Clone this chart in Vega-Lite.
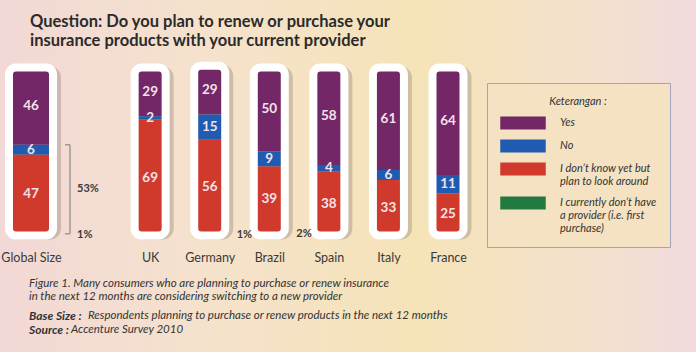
{
  "$schema": "https://vega.github.io/schema/vega-lite/v6.json",
  "width": 696,
  "height": 352,
  "autosize": {"type": "none"},
  "padding": 0,
  "background": "#f4e2c6",
  "config": {
    "font": "Lato",
    "view": {
      "stroke": null,
      "fill": {
        "gradient": "linear",
        "x1": 0, "y1": 0, "x2": 1, "y2": 0,
        "stops": [
          {"offset": 0, "color": "#f2d8d6"},
          {"offset": 0.3, "color": "#f5e2cc"},
          {"offset": 0.6, "color": "#f5e3b8"},
          {"offset": 0.88, "color": "#f3e0cf"},
          {"offset": 1, "color": "#f1d9de"}
        ]
      }
    }
  },
  "title": {
    "text": ["Question: Do you plan to renew or purchase your", "insurance products with your current provider"],
    "anchor": "start",
    "frame": "group",
    "orient": "top",
    "offset": -49,
    "dx": 30,
    "font": "Lato",
    "fontSize": 16.5,
    "fontWeight": "bold",
    "color": "#2b2b2b",
    "lineHeight": 19
  },
  "datasets": {
    "survey": [
      {"country": "Global Size", "answer": "Yes", "value": 46},
      {"country": "Global Size", "answer": "No", "value": 6},
      {"country": "Global Size", "answer": "I don’t know yet but plan to look around", "value": 47},
      {"country": "Global Size", "answer": "I currently don’t have a provider (i.e. first purchase)", "value": 1},
      {"country": "UK", "answer": "Yes", "value": 29},
      {"country": "UK", "answer": "No", "value": 2},
      {"country": "UK", "answer": "I don’t know yet but plan to look around", "value": 69},
      {"country": "Germany", "answer": "Yes", "value": 29},
      {"country": "Germany", "answer": "No", "value": 15},
      {"country": "Germany", "answer": "I don’t know yet but plan to look around", "value": 56},
      {"country": "Germany", "answer": "I currently don’t have a provider (i.e. first purchase)", "value": 1},
      {"country": "Brazil", "answer": "Yes", "value": 50},
      {"country": "Brazil", "answer": "No", "value": 9},
      {"country": "Brazil", "answer": "I don’t know yet but plan to look around", "value": 39},
      {"country": "Brazil", "answer": "I currently don’t have a provider (i.e. first purchase)", "value": 2},
      {"country": "Spain", "answer": "Yes", "value": 58},
      {"country": "Spain", "answer": "No", "value": 4},
      {"country": "Spain", "answer": "I don’t know yet but plan to look around", "value": 38},
      {"country": "Italy", "answer": "Yes", "value": 61},
      {"country": "Italy", "answer": "No", "value": 6},
      {"country": "Italy", "answer": "I don’t know yet but plan to look around", "value": 33},
      {"country": "France", "answer": "Yes", "value": 64},
      {"country": "France", "answer": "No", "value": 11},
      {"country": "France", "answer": "I don’t know yet but plan to look around", "value": 25}
    ]
  },
  "layer": [
    {
      "data": {"name": "survey"},
      "transform": [{"aggregate": [{"op": "sum", "field": "value", "as": "total"}], "groupby": ["country"]}],
      "mark": {"type": "bar", "color": "#7d6a60", "stroke": "#7d6a60", "strokeWidth": 8, "opacity": 0.3, "cornerRadius": 7, "xOffset": 4, "yOffset": 3},
      "encoding": {
        "x": {
          "field": "country", "type": "nominal",
          "scale": {"type": "point", "domain": ["Global Size", " ", "UK", "Germany", "Brazil", "Spain", "Italy", "France"], "range": [31, 448], "padding": 0},
          "axis": {"title": null, "orient": "bottom", "offset": -103, "domain": false, "ticks": false, "grid": false, "labelPadding": 2, "labelAngle": 0, "labelFont": "Lato", "labelFontSize": 12.5, "labelColor": "#3a3a3a", "labelExpr": "datum.value === ' ' ? '' : datum.label"}
        },
        "y": {"field": "total", "type": "quantitative", "scale": {"domain": [-69.35, 140.18], "nice": false, "zero": false}, "axis": null},
        "y2": {"datum": 0},
        "size": {"condition": {"test": "datum.country === 'Global Size'", "value": 44}, "value": 31}
      }
    },
    {
      "data": {"name": "survey"},
      "transform": [{"stack": "value", "groupby": ["country"], "sort": [{"field": "answer", "order": "ascending"}], "as": ["y0", "y1"]}],
      "mark": {"type": "bar"},
      "encoding": {
        "x": {"field": "country", "type": "nominal"},
        "y": {"field": "y1", "type": "quantitative", "axis": null},
        "y2": {"field": "y0"},
        "size": {"condition": {"test": "datum.country === 'Global Size'", "value": 44}, "value": 31},
        "color": {
          "field": "answer", "type": "nominal",
          "scale": {
            "domain": ["Yes", "No", "I don’t know yet but plan to look around", "I currently don’t have a provider (i.e. first purchase)"],
            "range": ["#742766", "#1f5bb0", "#cf3a2c", "#237a40"]
          },
          "legend": {
            "orient": "none",
            "legendX": 487,
            "legendY": 83,
            "title": "Keterangan :",
            "titleFont": "Lato",
            "titleFontSize": 11,
            "titleFontStyle": "italic",
            "titleFontWeight": "normal",
            "titleColor": "#333333",
            "titleAnchor": "middle",
            "titlePadding": 3,
            "labelFont": "Lato",
            "labelFontSize": 11,
            "labelFontStyle": "italic",
            "labelColor": "#333333",
            "labelOffset": 24,
            "labelExpr": "datum.label === 'Yes' || datum.label === 'No' ? datum.label : (indexof(datum.label, 'know') >= 0 ? ['I don’t know yet but', 'plan to look around'] : ['I currently don’t have', 'a provider (i.e. first', 'purchase)'])",
            "symbolType": "M-1.75,-0.5H1.75V0.5H-1.75Z",
            "symbolSize": 676,
            "symbolStrokeWidth": 0,
            "symbolOpacity": 1,
            "symbolOffset": 10,
            "rowPadding": 3,
            "padding": 13,
            "fillColor": "#f5e2c2",
            "strokeColor": "#a3a3bd"
          }
        }
      }
    },
    {
      "data": {"name": "survey"},
      "transform": [{"aggregate": [{"op": "sum", "field": "value", "as": "total"}], "groupby": ["country"]}],
      "mark": {"type": "bar", "fill": "transparent", "stroke": "#ffffff", "strokeWidth": 8, "cornerRadius": 7},
      "encoding": {
        "x": {"field": "country", "type": "nominal"},
        "y": {"field": "total", "type": "quantitative", "axis": null},
        "y2": {"datum": 0},
        "size": {"condition": {"test": "datum.country === 'Global Size'", "value": 44}, "value": 31}
      }
    },
    {
      "data": {"name": "survey"},
      "transform": [
        {"stack": "value", "groupby": ["country"], "sort": [{"field": "answer", "order": "ascending"}], "as": ["y0", "y1"]},
        {"filter": "indexof(datum.answer, 'currently') < 0"},
        {"calculate": "(datum.y0 + datum.y1) / 2", "as": "mid"}
      ],
      "mark": {"type": "text", "font": "Lato", "fontSize": 13.5, "fontWeight": "bold", "color": "#f3e2ea", "baseline": "middle"},
      "encoding": {
        "x": {"field": "country", "type": "nominal"},
        "y": {"field": "mid", "type": "quantitative", "axis": null},
        "text": {"field": "value", "type": "quantitative"}
      }
    },
    {
      "data": {"name": "survey"},
      "transform": [
        {"stack": "value", "groupby": ["country"], "sort": [{"field": "answer", "order": "ascending"}], "as": ["y0", "y1"]},
        {"filter": "indexof(datum.answer, 'currently') >= 0 && datum.country !== 'Global Size'"},
        {"calculate": "(datum.y0 + datum.y1) / 2", "as": "mid"},
        {"calculate": "datum.value + '%'", "as": "label"}
      ],
      "mark": {"type": "text", "font": "Lato", "fontSize": 11, "fontWeight": "bold", "color": "#3a3a3a", "align": "left", "baseline": "middle", "dx": 27},
      "encoding": {
        "x": {"field": "country", "type": "nominal"},
        "y": {"field": "mid", "type": "quantitative", "axis": null},
        "text": {"field": "label", "type": "nominal"}
      }
    },
    {
      "data": {"name": "survey"},
      "transform": [
        {"stack": "value", "groupby": ["country"], "sort": [{"field": "answer", "order": "ascending"}], "as": ["y0", "y1"]},
        {"filter": "indexof(datum.answer, 'currently') >= 0 && datum.country === 'Global Size'"},
        {"calculate": "(datum.y0 + datum.y1) / 2", "as": "mid"},
        {"calculate": "datum.value + '%'", "as": "label"}
      ],
      "mark": {"type": "text", "font": "Lato", "fontSize": 11, "fontWeight": "bold", "color": "#3a3a3a", "align": "left", "baseline": "middle", "dx": 46},
      "encoding": {
        "x": {"field": "country", "type": "nominal"},
        "y": {"field": "mid", "type": "quantitative", "axis": null},
        "text": {"field": "label", "type": "nominal"}
      }
    },
    {
      "data": {"name": "survey"},
      "transform": [
        {"stack": "value", "groupby": ["country"], "sort": [{"field": "answer", "order": "ascending"}], "as": ["y0", "y1"]},
        {"filter": "datum.country === 'Global Size' && (datum.answer === 'No' || indexof(datum.answer, 'know') >= 0)"},
        {"aggregate": [{"op": "sum", "field": "value", "as": "total"}, {"op": "min", "field": "y0", "as": "lo"}, {"op": "max", "field": "y1", "as": "hi"}], "groupby": ["country"]},
        {"calculate": "(datum.lo + datum.hi) / 2", "as": "mid"},
        {"calculate": "datum.total + '%'", "as": "label"}
      ],
      "layer": [
        {
          "mark": {"type": "text", "font": "Lato", "fontSize": 11, "fontWeight": "bold", "color": "#3a3a3a", "align": "left", "baseline": "middle", "dx": 46},
          "encoding": {
            "x": {"field": "country", "type": "nominal"},
            "y": {"field": "mid", "type": "quantitative", "axis": null},
            "text": {"field": "label", "type": "nominal"}
          }
        },
        {
          "mark": {"type": "rule", "color": "#8a8a8a", "strokeWidth": 1.2, "xOffset": 39},
          "encoding": {
            "x": {"field": "country", "type": "nominal"},
            "y": {"field": "lo", "type": "quantitative", "axis": null},
            "y2": {"field": "hi"}
          }
        },
        {
          "mark": {"type": "rule", "color": "#8a8a8a", "strokeWidth": 1.2, "xOffset": 34, "x2Offset": 39},
          "encoding": {
            "x": {"field": "country", "type": "nominal"},
            "x2": {"field": "country"},
            "y": {"field": "hi", "type": "quantitative", "axis": null}
          }
        },
        {
          "mark": {"type": "rule", "color": "#8a8a8a", "strokeWidth": 1.2, "xOffset": 34, "x2Offset": 39},
          "encoding": {
            "x": {"field": "country", "type": "nominal"},
            "x2": {"field": "country"},
            "y": {"field": "lo", "type": "quantitative", "axis": null}
          }
        }
      ]
    },
    {
      "data": {"values": [{"t": ["Figure 1. Many consumers who are planning to purchase or renew insurance", "in the next 12 months are considering switching to a new provider"]}]},
      "mark": {"type": "text", "font": "Lato", "fontSize": 11.5, "fontStyle": "italic", "color": "#333333", "align": "left", "baseline": "middle", "lineHeight": 13, "dx": -2},
      "encoding": {
        "x": {"datum": "Global Size", "type": "nominal"},
        "y": {"datum": -28.9, "type": "quantitative", "axis": null},
        "text": {"field": "t", "type": "nominal"}
      }
    },
    {
      "data": {"values": [{"t": ["Base Size :", "Source :"]}]},
      "mark": {"type": "text", "font": "Lato", "fontSize": 12, "fontStyle": "italic", "fontWeight": "bold", "color": "#333333", "align": "left", "baseline": "middle", "lineHeight": 14, "dx": -2},
      "encoding": {
        "x": {"datum": "Global Size", "type": "nominal"},
        "y": {"datum": -47.9, "type": "quantitative", "axis": null},
        "text": {"field": "t", "type": "nominal"}
      }
    },
    {
      "data": {"values": [{"t": "Respondents planning to purchase or renew products in the next 12 months"}]},
      "mark": {"type": "text", "font": "Lato", "fontSize": 11.5, "fontStyle": "italic", "color": "#333333", "align": "left", "baseline": "middle", "dx": 57},
      "encoding": {
        "x": {"datum": "Global Size", "type": "nominal"},
        "y": {"datum": -47.9, "type": "quantitative", "axis": null},
        "text": {"field": "t", "type": "nominal"}
      }
    },
    {
      "data": {"values": [{"t": "Accenture Survey 2010"}]},
      "mark": {"type": "text", "font": "Lato", "fontSize": 11.5, "fontStyle": "italic", "color": "#333333", "align": "left", "baseline": "middle", "dx": 40},
      "encoding": {
        "x": {"datum": "Global Size", "type": "nominal"},
        "y": {"datum": -56.25, "type": "quantitative", "axis": null},
        "text": {"field": "t", "type": "nominal"}
      }
    }
  ]
}
